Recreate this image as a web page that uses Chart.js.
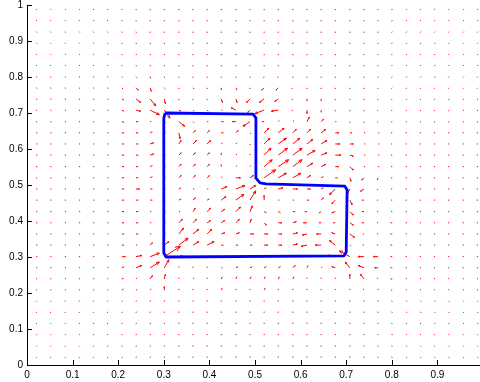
<!DOCTYPE html>
<html>
<head>
<meta charset="utf-8">
<script src="https://cdn.jsdelivr.net/npm/chart.js@4.4.0/dist/chart.umd.min.js"></script>
<style>
  html, body { margin: 0; padding: 0; background: #fff; overflow: hidden; }
  #wrap { width: 480px; height: 382px; }
</style>
</head>
<body>
<div id="wrap"><canvas id="campo" width="480" height="382"></canvas></div>
<script>
// sample grid (x left->right, y top->bottom)
const gridX = [0.020,0.051,0.083,0.114,0.145,0.176,0.208,0.239,0.270,0.301,0.333,0.364,0.395,0.426,0.458,0.489,
               0.520,0.551,0.583,0.614,0.645,0.676,0.708,0.739,0.770,0.801,0.833,0.864,0.895,0.926,0.958,0.989];
const gridY = [0.989,0.958,0.926,0.895,0.864,0.833,0.801,0.770,0.739,0.708,0.676,0.645,0.614,0.583,0.551,0.520,
               0.489,0.458,0.426,0.395,0.364,0.333,0.301,0.270,0.239,0.208,0.176,0.145,0.114,0.083,0.051,0.020];

// field components, one row per gridY entry (u = right, v = up)
const fieldU = [
  [0.3,0.3,0.3,0.3,0.3,0.3,0.2,0.1,0,0,0,0,0,0,0,0,0,0,0,0,0,0,0,0,-0.1,-0.2,-0.3,-0.3,-0.3,-0.3,-0.3,-0.3],
  [0.3,0.3,0.3,0.3,0.3,0.3,0.2,0.1,0,0,0,0,0,0,0,0,0,0,0,0,0,0,0,0,-0.1,-0.2,-0.3,-0.3,-0.3,-0.3,-0.3,-0.3],
  [0.3,0.3,0.3,0.4,0.4,0.4,0.3,0.2,0.1,0,0,0,0,0,0,0,0,0,0,0,0,0,0,-0.1,-0.2,-0.3,-0.3,-0.3,-0.3,-0.3,-0.3,-0.3],
  [0.3,0.3,0.4,0.4,0.5,0.5,0.4,0.3,0.2,0.1,0,0,0,0,0,0,0,0,0,0,0,0,-0.1,-0.2,-0.3,-0.3,-0.4,-0.3,-0.3,-0.3,-0.3,-0.3],
  [0.3,0.3,0.4,0.4,0.5,0.6,0.5,0.4,0.3,0.1,0,0,0,0,0,0,0,0,0,0,0,0,-0.1,-0.2,-0.3,-0.4,-0.4,-0.4,-0.3,-0.3,-0.3,-0.3],
  [0.3,0.3,0.4,0.5,0.5,0.6,0.6,0.5,0.4,0.2,0,0,0,0,0,0,0,0,0,0,0,0,-0.1,-0.2,-0.3,-0.4,-0.4,-0.4,-0.3,-0.3,-0.3,-0.3],
  [0.4,0.4,0.4,0.5,0.6,0.7,0.8,1,0.5,0.3,0,0,0,0,0,0,-0.5,-0.5,0,0,0,0,-0.1,-0.2,-0.3,-0.4,-0.4,-0.4,-0.3,-0.3,-0.3,-0.3],
  [0.5,0.5,0.5,0.6,0.8,1,1,2,1,1,0,1,0,0,1,0,-2,-2,-1,0,0,0,0,0,-0.3,-0.4,-0.4,-0.4,-0.4,-0.4,-0.4,-0.4],
  [0.5,0.5,0.5,0.6,0.8,1,2,4,5,1,0,0,0,1,1,-3,-4,-3,-1,0,0,0,0,0,-0.3,-0.4,-0.4,-0.4,-0.4,-0.4,-0.4,-0.4],
  [0.5,0.5,0.5,0.6,0.8,1,2,4,8,5,2,1,1,1,-4,-2,-8,-6,-1,0,0,0,0,0,-0.4,-0.5,-0.4,-0.4,-0.4,-0.4,-0.4,-0.4],
  [0.5,0.5,0.5,0.6,0.8,1,2,2,1,1,5,1,1,2,-3,-6,-2,1,1,2,2,1,0,0,-0.4,-0.5,-0.4,-0.4,-0.4,-0.4,-0.4,-0.4],
  [0.5,0.5,0.5,0.6,0.8,1,2,2,2,1,1,2,2,2,2,1,4,5,3,3,4,3,2,1,0.5,-0.5,-0.4,-0.4,-0.4,-0.4,-0.4,-0.4],
  [0.5,0.5,0.5,0.6,0.8,1,2,2,3,1,2,3,3,1,1,0,5,7,6,5,5,4,3,1,0.5,-0.5,-0.4,-0.4,-0.4,-0.4,-0.4,-0.4],
  [0.5,0.5,0.5,0.6,0.8,1,2,2,3,1,2,2,2,0,1,0,6,8,8,7,5,5,3,1,0.5,-0.5,-0.4,-0.4,-0.4,-0.4,-0.4,-0.4],
  [0.5,0.5,0.5,0.6,0.8,1,2,2,2,1,2,2,2,0,1,1,7,9,8,5,4,3,3,1,0.5,-0.5,-0.4,-0.4,-0.4,-0.4,-0.4,-0.4],
  [0.5,0.5,0.5,0.6,0.8,1,2,2,2,1,2,2,2,1,4,3,10,7,7,3,2,2,1,-2,-1,-0.5,-0.4,-0.4,-0.4,-0.4,-0.4,-0.4],
  [0.5,0.5,0.5,0.6,0.8,1,2,3,2,1,2,1,1,5,8,5,2,4,4,3,2,-5,-2,-3,-1,-1,-0.5,-0.4,-0.4,-0.4,-0.4,-0.4],
  [0.5,0.5,0.5,0.6,0.8,1,2,2,2,1,2,2,2,4,7,5,0,1,1,2,2,-3,2,-2,-1,-1,-0.5,-0.4,-0.4,-0.4,-0.4,-0.4],
  [0.5,0.5,0.5,0.6,0.8,1,2,2,1,1,1,2,3,3,4,2,2,2,2,-2,-2,-3,3,-2,-1,-1,-0.5,-0.4,-0.4,-0.4,-0.4,-0.4],
  [0.5,0.5,0.5,0.6,0.8,1,2,2,1,1,3,3,3,3,3,1,2,3,3,-3,-2,-2,3,-2,-1,-1.5,-0.5,-0.4,-0.4,-0.4,-0.4,-0.4],
  [0.5,0.5,0.5,0.6,0.8,1,2,2,1,1,4,5,4,3,3,3,3,3,4,-4,-4,-3,4,-1,-1,-1.5,-0.5,-0.4,-0.4,-0.4,-0.4,-0.4],
  [0.5,0.5,0.5,0.6,0.8,1,2,1,2,4,8,5,6,2,2,2,3,3,4,-5,-5,-5,1,-1,-1,-1.5,-0.5,-0.4,-0.4,-0.4,-0.4,-0.4],
  [0.5,0.5,0.5,0.6,0.8,1,3,5,8,14,3,2,2,1,1,1,1,1,1,-1,-1,-7,-9,-5,-4,-1.5,-0.5,-0.4,-0.4,-0.4,-0.4,-0.4],
  [0.5,0.5,0.5,0.6,0.8,1,2,5,8,4,0,0,0,1,2,2,2,2,2,1,1,-3,-4,-5,-3,-1.5,-0.5,-0.4,-0.4,-0.4,-0.4,-0.4],
  [0.4,0.4,0.4,0.5,0.6,0.8,1.5,1,2,1,0,1,0,1,1,1,1,1,1,0,0,0,0,-3,-1,-1.5,-0.5,-0.4,-0.4,-0.4,-0.4,-0.4],
  [0.4,0.4,0.4,0.5,0.6,0.8,1.5,1,1,0,0,0,0,1,0,0,1,0,0,0,0,0,0,-1,0,-1,-0.5,-0.4,-0.4,-0.4,-0.4,-0.4],
  [0.3,0.3,0.3,0.3,0.4,0.5,0.5,0.5,0.3,0.2,0,0,0,0,0,0,0,0,0,0,0,0,0,-0.2,-0.3,-0.4,-0.4,-0.4,-0.3,-0.3,-0.3,-0.3],
  [0.3,0.3,0.3,0.3,0.4,0.4,0.4,0.4,0.3,0.2,0,0,0,0,0,0,0,0,0,0,0,0,0,-0.2,-0.3,-0.3,-0.3,-0.3,-0.3,-0.3,-0.3,-0.3],
  [0.3,0.3,0.3,0.3,0.3,0.3,0.3,0.3,0.2,0.1,0,0,0,0,0,0,0,0,0,0,0,0,0,-0.1,-0.2,-0.3,-0.3,-0.3,-0.3,-0.3,-0.3,-0.3],
  [0.3,0.3,0.3,0.3,0.3,0.3,0.3,0.2,0.2,0.1,0,0,0,0,0,0,0,0,0,0,0,0,0,-0.1,-0.2,-0.2,-0.3,-0.3,-0.3,-0.3,-0.3,-0.3],
  [0.3,0.3,0.3,0.3,0.3,0.3,0.3,0.2,0.2,0.1,0,0,0,0,0,0,0,0,0,0,0,0,0,-0.1,-0.2,-0.2,-0.3,-0.3,-0.3,-0.3,-0.3,-0.3],
  [0.3,0.3,0.3,0.3,0.3,0.3,0.3,0.2,0.2,0.1,0,0,0,0,0,0,0,0,0,0,0,0,0,-0.1,-0.2,-0.2,-0.3,-0.3,-0.3,-0.3,-0.3,-0.3]
];
const fieldV = [
  [-0.3,-0.3,-0.3,-0.3,-0.4,-0.4,-0.4,-0.5,-0.5,-0.5,-0.5,-0.5,-0.5,-0.5,-0.5,-0.5,-0.5,-0.5,-0.5,-0.5,-0.5,-0.5,-0.4,-0.4,-0.4,-0.4,-0.3,-0.3,-0.3,-0.3,-0.3,-0.3],
  [-0.3,-0.3,-0.3,-0.4,-0.4,-0.5,-0.5,-0.6,-0.6,-0.6,-0.6,-0.6,-0.6,-0.6,-0.6,-0.6,-0.6,-0.6,-0.6,-0.6,-0.6,-0.6,-0.5,-0.5,-0.5,-0.4,-0.4,-0.3,-0.3,-0.3,-0.3,-0.3],
  [-0.3,-0.3,-0.4,-0.4,-0.5,-0.5,-0.6,-0.7,-0.7,-0.7,-0.7,-0.7,-0.7,-0.7,-0.7,-0.7,-0.7,-0.7,-0.7,-0.7,-0.7,-0.6,-0.6,-0.5,-0.5,-0.5,-0.4,-0.4,-0.3,-0.3,-0.3,-0.3],
  [-0.3,-0.3,-0.4,-0.4,-0.5,-0.6,-0.7,-0.8,-0.8,-0.8,-0.8,-0.8,-0.8,-0.8,-0.8,-0.8,-0.8,-0.8,-0.8,-0.8,-0.8,-0.7,-0.7,-0.6,-0.6,-0.5,-0.5,-0.4,-0.4,-0.3,-0.3,-0.3],
  [-0.3,-0.3,-0.3,-0.4,-0.5,-0.6,-0.7,-0.9,-0.9,-0.9,-0.9,-0.9,-0.9,-0.9,-0.9,-0.9,-0.9,-0.9,-0.9,-0.9,-0.9,-0.8,-0.8,-0.7,-0.6,-0.5,-0.5,-0.4,-0.4,-0.3,-0.3,-0.3],
  [-0.3,-0.3,-0.3,-0.4,-0.5,-0.6,-0.8,-1,-1,-1,-1,-1,-1,-1,-1,-1,-1,-1,-1,-1,-1,-1,-0.9,-0.8,-0.6,-0.5,-0.5,-0.4,-0.4,-0.3,-0.3,-0.3],
  [-0.3,-0.3,-0.3,-0.3,-0.4,-0.5,-0.8,-1,-1.5,-1,-1,-1,-1,-1,-1,-1,-1,-1,-1,-1,-1,-1,-0.9,-0.8,-0.6,-0.5,-0.5,-0.4,-0.4,-0.3,-0.3,-0.3],
  [-0.3,-0.3,-0.3,-0.4,-0.5,-0.5,-1,-2,-3,-1,-1,-1,-1,-2,-2,-1,-2,-2,-1,-1,-1,-1,-1,-1,-0.6,-0.5,-0.5,-0.5,-0.4,-0.4,-0.4,-0.4],
  [-0.2,-0.2,-0.2,-0.3,-0.4,-0.5,-1,-3,-6,-4,-1,-1,-1,-3,-3,-3,-3,-2,-1,-2,-2,-1,-1,-1,-0.5,-0.4,-0.4,-0.4,-0.3,-0.3,-0.3,-0.3],
  [-0.2,-0.2,-0.2,-0.2,-0.3,-0.5,-1,-1,-4,-7,-1,-1,-1,0,2,-2,-3,-1,-1,-3,-2,-1,-1,-1,-0.4,-0.3,-0.3,-0.3,-0.3,-0.3,-0.2,-0.2],
  [-0.1,-0.1,-0.1,-0.1,-0.2,-0.3,-0.5,0,0,-1,-4,-1,0,0,0,-4,0,1,1,4,2,0,-0.5,-0.5,-0.3,-0.2,-0.2,-0.2,-0.2,-0.2,-0.2,-0.2],
  [0,0,0,0,-0.1,0,0,0,1,0,-5,2,2,0,2,-1,4,4,3,3,3,0,0,0,0,0,0,0,0,0,0,0],
  [0,0,0,0,0,0,0,0,1,0,3,3,3,1,1,-1,5,5,5,4,3,0,0,0,0,0,0,0,0,0,0,0],
  [0,0,0,0,0,0,0,0,1,0,2,2,2,2,1,0.5,6,6,6,4,2,0,-1,0,0,0,0,0,0,0,0,0],
  [0,0,0,0,0,0,0,0,1,0,2,2,2,2,1,1,6,6,6,3,2,0,-3,0,0,0,0,0,0,0,0,0],
  [0,0,0,0,0,0,0,0,1,0,2,2,2,1,0,2,7,4,4,2,1,0,-3,-2,-2,0,0,0,0,0,0,0],
  [0,0,0,0,0,0,0,0,0,0,1,0,0,2,3,3,1,1,0,0,1,-5,-4,-2,-1,0,0,0,0,0,0,0],
  [0,0,0,0,0,0,0,0,0,0,1,2,1,3,5,8,4,0,0,0,2,-3,-4,0,0,0,0,0,0,0,0,0],
  [0,0,0,0,0,0,0,0,0,0,0,3,3,2,4,5,-1,-1,0,0,-1,-1,-3,0,0,0,0,0,0,0,0,0],
  [0,0,0,0,0,0,0,0,0,0,3,3,2,2,3,3,-2,0,1,0,0,0,-2,0,0,0,0,0,0,0,0,0],
  [0,0,0,0,0,0,0,0,0,0,5,4,4,1,1,0,0,0,1,-1,0,1,-3,0,0,0,0,0,0,0,0,0],
  [0,0,0,0,0,0,0,0,2,3,6,3,3,0,0,0,0,0,1,-1,0,4,-1,0,0,0,0,0,0,0,0,0],
  [0,0,0,0,0,0,0,1,3,9,1,0,0,0,0,0,0,0,0,0,0,1,5,0,0,0,0,0,0,0,0,0],
  [0.1,0.1,0.1,0.1,0.2,0.3,1,2,5,7,1,1,1,0,1,1,1,1,2,2,1,1,5,2,0,0,0,0,0,0,0,0],
  [0.2,0.2,0.2,0.2,0.3,0.4,0.5,1,3,4,1,1,1,2,2,2,2,2,2,1,1,1,4,4,1,0,0.2,0.2,0.2,0.2,0.2,0.2],
  [0.2,0.2,0.2,0.3,0.4,0.5,1,0.5,1,3,1,1,1,2,1,1,2,1,1,1,1,1,1,1,1,0,0.3,0.3,0.3,0.3,0.3,0.3],
  [0.3,0.3,0.4,0.5,0.6,0.7,0.8,0.9,1,1,1,1,1,1,1,1,1,1,1,1,1,1,1,0.9,0.8,0.7,0.6,0.5,0.4,0.3,0.3,0.3],
  [0.3,0.3,0.4,0.4,0.5,0.6,0.7,0.8,0.9,0.9,0.9,0.9,0.9,0.9,0.9,0.9,0.9,0.9,0.9,0.9,0.9,0.9,0.9,0.8,0.7,0.6,0.5,0.5,0.4,0.3,0.3,0.3],
  [0.3,0.3,0.3,0.4,0.5,0.5,0.6,0.7,0.8,0.8,0.8,0.8,0.8,0.8,0.8,0.8,0.8,0.8,0.8,0.8,0.8,0.8,0.8,0.7,0.6,0.5,0.5,0.4,0.4,0.3,0.3,0.3],
  [0.3,0.3,0.3,0.3,0.4,0.5,0.5,0.6,0.7,0.7,0.7,0.7,0.7,0.7,0.7,0.7,0.7,0.7,0.7,0.7,0.7,0.7,0.7,0.6,0.5,0.5,0.4,0.4,0.3,0.3,0.3,0.3],
  [0.3,0.3,0.3,0.3,0.4,0.4,0.5,0.5,0.6,0.6,0.6,0.6,0.6,0.6,0.6,0.6,0.6,0.6,0.6,0.6,0.6,0.6,0.6,0.5,0.5,0.4,0.4,0.3,0.3,0.3,0.3,0.3],
  [0.3,0.3,0.3,0.3,0.3,0.4,0.4,0.5,0.5,0.5,0.5,0.5,0.5,0.5,0.5,0.5,0.5,0.5,0.5,0.5,0.5,0.5,0.5,0.5,0.4,0.4,0.3,0.3,0.3,0.3,0.3,0.3]
];

// L-shaped contour
const contourX = [0.303,0.496,0.502,0.502,0.511,0.524,0.697,0.702,0.700,0.695,0.305,0.300,0.300,0.303];
const contourY = [0.700,0.697,0.686,0.519,0.506,0.503,0.497,0.486,0.314,0.303,0.300,0.311,0.686,0.700];

// axis ticks
const xTicks = [0,0.1,0.2,0.3,0.4,0.5,0.6,0.7,0.8,0.9];
const xTickLabels = ['0','0.1','0.2','0.3','0.4','0.5','0.6','0.7','0.8','0.9'];
const yTicks = [0,0.1,0.2,0.3,0.4,0.5,0.6,0.7,0.8,0.9,1];
const yTickLabels = ['0','0.1','0.2','0.3','0.4','0.5','0.6','0.7','0.8','0.9','1'];

const arrowScale = 1.15; // px per field unit
const minArrow = 1.2;    // shortest stroke drawn

const quiverPts = [];
gridY.forEach((y, r) => {
  gridX.forEach((x, c) => {
    quiverPts.push({ x: x, y: y, u: fieldU[r][c], v: fieldV[r][c] });
  });
});

// arrows are stroked under the contour
const quiverPlugin = {
  id: 'quiver',
  beforeDatasetsDraw(chart) {
    const ctx = chart.ctx;
    const els = chart.getDatasetMeta(0).data;
    ctx.save();
    ctx.strokeStyle = '#ff0000';
    ctx.lineWidth = 1;
    ctx.lineCap = 'butt';
    ctx.beginPath();
    els.forEach((el, i) => {
      const p = quiverPts[i];
      let dx = p.u * arrowScale, dy = -p.v * arrowScale;
      let len = Math.hypot(dx, dy);
      if (len < minArrow) {
        if (len === 0) { dx = minArrow; dy = 0; }
        else { dx *= minArrow / len; dy *= minArrow / len; }
        len = minArrow;
      }
      const x2 = el.x + dx, y2 = el.y + dy;
      ctx.moveTo(el.x, el.y);
      ctx.lineTo(x2, y2);
      if (len > 3) {
        const a = Math.atan2(dy, dx), h = len * 0.3;
        ctx.moveTo(x2, y2);
        ctx.lineTo(x2 - h * Math.cos(a - 0.4), y2 - h * Math.sin(a - 0.4));
        ctx.moveTo(x2, y2);
        ctx.lineTo(x2 - h * Math.cos(a + 0.4), y2 - h * Math.sin(a + 0.4));
      }
    });
    ctx.stroke();
    ctx.restore();
  }
};

// inward tick marks on the two axes
const tickMarks = {
  id: 'tickMarks',
  afterDraw(chart) {
    const { ctx, chartArea, scales } = chart;
    ctx.save();
    ctx.strokeStyle = '#000';
    ctx.lineWidth = 1;
    ctx.beginPath();
    scales.x.ticks.forEach(t => {
      const px = Math.round(scales.x.getPixelForValue(t.value)) + 0.5;
      ctx.moveTo(px, chartArea.bottom);
      ctx.lineTo(px, chartArea.bottom - 5);
    });
    scales.y.ticks.forEach(t => {
      const py = Math.round(scales.y.getPixelForValue(t.value)) + 0.5;
      ctx.moveTo(chartArea.left, py);
      ctx.lineTo(chartArea.left + 5, py);
    });
    ctx.stroke();
    ctx.restore();
  }
};

const tickFont = { family: 'Liberation Sans', size: 10 };

new Chart(document.getElementById('campo'), {
  type: 'scatter',
  data: {
    datasets: [
      {
        label: 'campo',
        data: quiverPts.map(p => ({ x: p.x, y: p.y })),
        pointRadius: 0,
        pointHoverRadius: 0
      },
      {
        type: 'line',
        label: 'contorno',
        data: contourX.map((x, i) => ({ x: x, y: contourY[i] })),
        borderColor: '#0000ff',
        borderWidth: 2.8,
        borderJoinStyle: 'round',
        pointRadius: 0,
        fill: false,
        tension: 0,
        showLine: true
      }
    ]
  },
  options: {
    responsive: false,
    animation: false,
    devicePixelRatio: 1,
    layout: { padding: 0 },
    plugins: { legend: { display: false }, tooltip: { enabled: false } },
    scales: {
      x: {
        type: 'linear',
        min: 0,
        max: 0.9934,
        afterBuildTicks: s => { s.ticks = xTicks.map(v => ({ value: v })); },
        afterFit: s => { s.height = 17; s.paddingLeft = 0; s.paddingRight = 0; },
        grid: { drawOnChartArea: false, drawTicks: false },
        border: { display: true, color: '#000', width: 1 },
        ticks: {
          font: tickFont, color: '#000', padding: 4, maxRotation: 0, autoSkip: false,
          callback: (v, i) => xTickLabels[i]
        }
      },
      y: {
        type: 'linear',
        min: 0,
        max: 1,
        afterBuildTicks: s => { s.ticks = yTicks.map(v => ({ value: v })); },
        afterFit: s => { s.width = 27; s.paddingTop = 5; s.paddingBottom = 0; },
        grid: { drawOnChartArea: false, drawTicks: false },
        border: { display: true, color: '#000', width: 1 },
        ticks: {
          font: tickFont, color: '#000', padding: 4, autoSkip: false,
          callback: (v, i) => yTickLabels[i]
        }
      }
    }
  },
  plugins: [quiverPlugin, tickMarks]
});
</script>
</body>
</html>
